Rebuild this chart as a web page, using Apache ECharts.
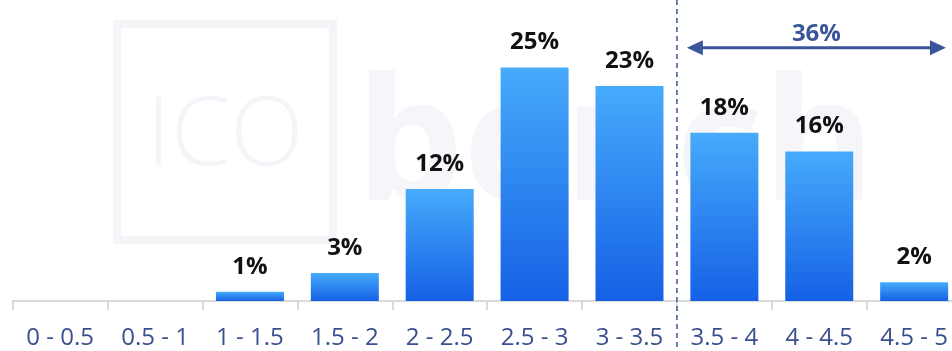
<!DOCTYPE html>
<html><head><meta charset="utf-8">
<script src="https://cdn.jsdelivr.net/npm/echarts@6/dist/echarts.min.js"></script>
<style>html,body{margin:0;padding:0;background:#fff}#c{width:952px;height:351px}</style>
</head><body><div id="c"></div>
<script>
const categories = ['0 - 0.5','0.5 - 1','1 - 1.5','1.5 - 2','2 - 2.5','2.5 - 3','3 - 3.5','3.5 - 4','4 - 4.5','4.5 - 5'];
const shares = [0, 0, 1, 3, 12, 25, 23, 18, 16, 2];
const highlightStartIndex = 7;
const highlightLabel = '36%';
const yMax = 32;

const FONT = 'Open Sans';
const ACCENT = '#3a5599';
const chart = echarts.init(document.getElementById('c'), null, {renderer: 'canvas'});

const watermark = [
  {type: 'rect', z: -10, shape: {x: 117, y: 24, width: 216, height: 216},
   style: {fill: 'none', stroke: '#f4f4f9', lineWidth: 8}},
  {type: 'text', z: -10, x: 225, y: 138,
   style: {text: 'ICO', fontFamily: FONT, fontWeight: 300, fontSize: 96, fill: '#f4f4f9', align: 'center', verticalAlign: 'middle'}},
  {type: 'text', z: -10, x: 356, y: 237,
   style: {text: 'bench', fontFamily: FONT, fontWeight: 'bold', fontSize: 170, fill: '#f5f5fa', align: 'left', verticalAlign: 'bottom'}}
];

chart.setOption({
  animation: false,
  backgroundColor: '#ffffff',
  grid: {left: 12.7, right: -9.6, top: 2, bottom: 50, containLabel: false, outerBoundsMode: 'none'},
  xAxis: {
    type: 'category',
    data: categories,
    axisLine: {lineStyle: {color: '#dadada', width: 2}},
    axisTick: {show: true, length: 9, lineStyle: {color: '#dadada', width: 2}},
    axisLabel: {color: '#3b4f8e', fontFamily: FONT, fontSize: 24, margin: 25, interval: 0, hideOverlap: false}
  },
  yAxis: {type: 'value', min: 0, max: yMax, show: false, splitLine: {show: false}},
  graphic: watermark,
  series: [{
    type: 'bar',
    data: shares,
    barWidth: 68,
    itemStyle: {
      color: new echarts.graphic.LinearGradient(0, 0, 0, 1, [
        {offset: 0, color: '#47abfb'},
        {offset: 1, color: '#1560e5'}
      ])
    },
    label: {
      show: true, position: 'top', distance: 13,
      fontFamily: FONT, fontWeight: 'bold', fontSize: 24, color: '#111111',
      formatter: p => p.value ? p.value + '%' : ''
    }
  }]
});

function px(i) { return chart.convertToPixel({xAxisIndex: 0}, i); }
const bw = px(1) - px(0);
const boundaryX = (px(highlightStartIndex - 1) + px(highlightStartIndex)) / 2;
const arrowY = chart.convertToPixel({yAxisIndex: 0}, 27.1);
const x1 = boundaryX + 0.105 * bw;
const x2 = px(categories.length - 1) + 0.335 * bw;
const head = 16, half = 7.5;

chart.setOption({
  graphic: watermark.concat([
    {type: 'line', z: 50, shape: {x1: boundaryX, y1: 0, x2: boundaryX, y2: 351},
     style: {stroke: ACCENT, lineWidth: 1.5, lineDash: [5, 4]}},
    {type: 'line', z: 50, shape: {x1: x1 + head - 2, y1: arrowY, x2: x2 - head + 2, y2: arrowY},
     style: {stroke: ACCENT, lineWidth: 3}},
    {type: 'polygon', z: 50, shape: {points: [[x1, arrowY], [x1 + head, arrowY - half], [x1 + head, arrowY + half]]},
     style: {fill: ACCENT}},
    {type: 'polygon', z: 50, shape: {points: [[x2, arrowY], [x2 - head, arrowY - half], [x2 - head, arrowY + half]]},
     style: {fill: ACCENT}},
    {type: 'text', z: 50, x: (x1 + x2) / 2, y: arrowY - 14,
     style: {text: highlightLabel, fontFamily: FONT, fontWeight: 'bold', fontSize: 24, fill: ACCENT, align: 'center', verticalAlign: 'middle'}}
  ])
}, {replaceMerge: ['graphic']});
</script>
</body></html>
